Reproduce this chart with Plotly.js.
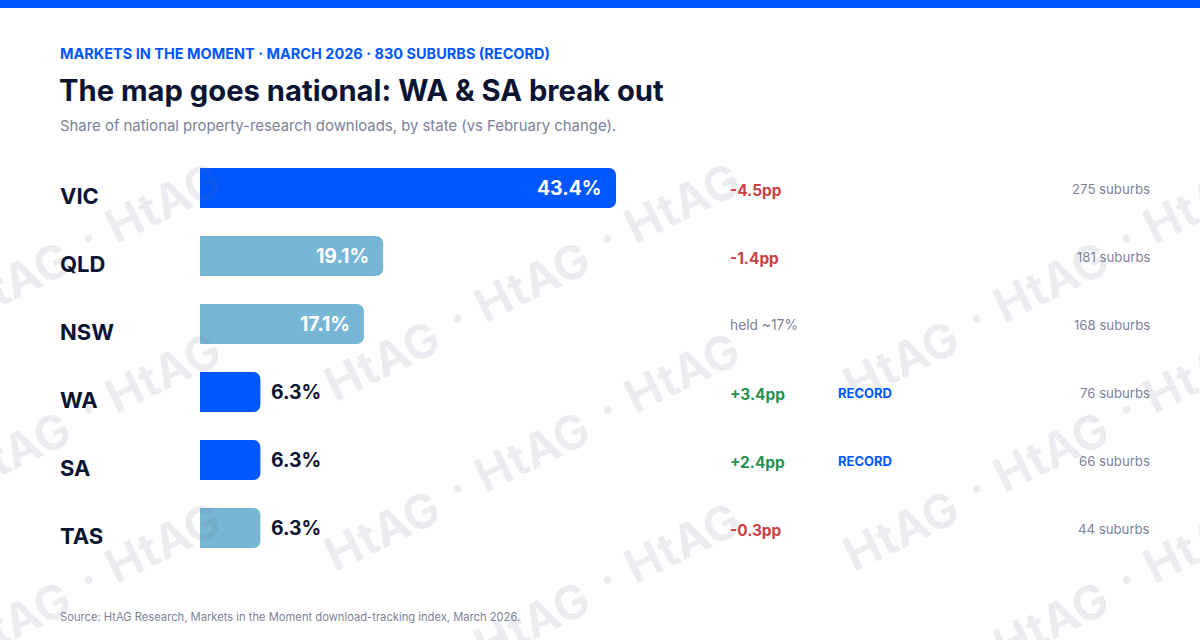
<!DOCTYPE html>
<html>
<head>
<meta charset="utf-8">
<script src="https://cdn.plot.ly/plotly-3.0.1.min.js"></script>
<style>
  html, body { margin: 0; padding: 0; background: #ffffff; }
  #chart { width: 1200px; height: 640px; }
</style>
</head>
<body>
<div id="chart"></div>
<script>
// ---------------- DATA ----------------
const states = ['VIC', 'QLD', 'NSW', 'WA', 'SA', 'TAS'];
const sharePct = [43.4, 19.1, 17.1, 6.3, 6.3, 6.3];
const shareLabels = ['43.4%', '19.1%', '17.1%', '6.3%', '6.3%', '6.3%'];
const changePP = [-4.5, -1.4, null, 3.4, 2.4, -0.3];
const changeLabels = ['-4.5pp', '-1.4pp', 'held ~17%', '+3.4pp', '+2.4pp', '-0.3pp'];
const recordFlags = ['', '', '', 'RECORD', 'RECORD', ''];
const suburbCounts = [275, 181, 168, 76, 66, 44];

const eyebrowText = 'MARKETS IN THE MOMENT · MARCH 2026 · 830 SUBURBS (RECORD)';
const titleText = 'The map goes national: WA &amp; SA break out';
const subtitleText = 'Share of national property-research downloads, by state (vs February change).';
const sourceText = 'Source: HtAG Research, Markets in the Moment download-tracking index, March 2026.';
const watermarkText = 'HtAG';

// ---------------- STYLE ----------------
const FONT = 'Inter, "Noto Sans", "DejaVu Sans", sans-serif';
const BLUE = '#0057FF';
const LIGHT = '#78B6D6';
const INK = '#0B1433';
const GREY = '#7B8296';
const RED = '#C8403F';
const GREEN = '#1F9150';

const W = 1200, H = 640;
const M = { l: 200, r: 50, t: 154, b: 78 };
const PW = W - M.l - M.r, PH = H - M.t - M.b;
const px = x => (x - M.l) / PW;          // pixel -> paper x
const py = y => 1 - (y - M.t) / PH;      // pixel -> paper y

const barColors = states.map((s, i) => (i === 0 || recordFlags[i]) ? BLUE : LIGHT);

const annotations = [];

// watermark (drawn first so that labels sit above it)
const WM = { size: 47, angle: -26, x0: -190, y0: 398, colStep: 519, rowStep: 170, step: [150, -79],
             cx: 52, cy: -38, color: 'rgba(100,110,130,0.12)' };
for (let r = 0; r < 3; r++) {
  for (let c = 0; c < 3; c++) {
    for (let k = 0; k < 3; k++) {
      const bx = WM.x0 + c * WM.colStep + k * WM.step[0];
      const by = WM.y0 + r * WM.rowStep + k * WM.step[1];
      annotations.push({
        xref: 'paper', yref: 'paper', x: px(bx + WM.cx), y: py(by + WM.cy),
        xanchor: 'center', yanchor: 'middle', showarrow: false,
        text: watermarkText, textangle: WM.angle,
        font: { family: FONT, size: WM.size, weight: 700, color: WM.color }
      });
      if (k > 0) {
        annotations.push({
          xref: 'paper', yref: 'paper', x: px(bx - 22), y: py(by - 2),
          xanchor: 'center', yanchor: 'middle', showarrow: false,
          text: '·', textangle: WM.angle,
          font: { family: FONT, size: WM.size, weight: 700, color: WM.color }
        });
      }
    }
  }
}

// header / footer texts
function pixText(text, x, y, size, color, weight) {
  annotations.push({
    xref: 'paper', yref: 'paper', x: px(x - 2), y: py(y),
    xanchor: 'left', yanchor: 'middle', showarrow: false,
    text: text, font: { family: FONT, size: size, color: color, weight: weight || 400 }
  });
}
pixText(eyebrowText, 60, 53, 14.5, BLUE, 700);
pixText(subtitleText, 60, 126, 14.9, GREY, 400);
pixText(sourceText, 60, 617, 11.2, GREY, 400);

// per-row texts
states.forEach((s, i) => {
  // state label
  annotations.push({
    xref: 'paper', yref: 'y', x: px(58), y: s, yshift: -8,
    xanchor: 'left', yanchor: 'middle', showarrow: false,
    text: s, font: { family: FONT, size: 22, weight: 700, color: INK }
  });
  // value label
  const inside = sharePct[i] > 10;
  annotations.push({
    xref: 'x', yref: 'y', x: sharePct[i], y: s,
    xshift: inside ? -12 : 9, yshift: 0,
    xanchor: inside ? 'right' : 'left', yanchor: 'middle', showarrow: false,
    text: shareLabels[i],
    font: { family: FONT, size: 19.4, weight: 700, color: inside ? '#FFFFFF' : INK }
  });
  // change vs February
  const ch = changePP[i];
  annotations.push({
    xref: 'paper', yref: 'y', x: px(728), y: s, yshift: ch === null ? -1 : -2,
    xanchor: 'left', yanchor: 'middle', showarrow: false,
    text: changeLabels[i],
    font: { family: FONT, size: ch === null ? 13.8 : 15.4, weight: ch === null ? 400 : 700,
            color: ch === null ? GREY : (ch < 0 ? RED : GREEN) }
  });
  // record flag
  if (recordFlags[i]) {
    annotations.push({
      xref: 'paper', yref: 'y', x: px(836), y: s, yshift: -1,
      xanchor: 'left', yanchor: 'middle', showarrow: false,
      text: recordFlags[i], font: { family: FONT, size: 13, weight: 700, color: BLUE }
    });
  }
  // suburbs
  annotations.push({
    xref: 'paper', yref: 'y', x: px(1152), y: s, yshift: -1,
    xanchor: 'right', yanchor: 'middle', showarrow: false,
    text: suburbCounts[i] + ' suburbs', font: { family: FONT, size: 13.2, color: GREY }
  });
});

const trace = {
  type: 'bar', orientation: 'h',
  x: sharePct, y: states,
  width: 40 / 68,
  marker: { color: barColors, cornerradius: 7, line: { width: 0 } },
  hoverinfo: 'skip', textposition: 'none'
};

const layout = {
  width: W, height: H,
  margin: M,
  paper_bgcolor: '#FFFFFF', plot_bgcolor: 'rgba(0,0,0,0)',
  showlegend: false,
  font: { family: FONT, color: INK },
  title: {
    text: titleText, xref: 'container', yref: 'container',
    x: 59 / W, xanchor: 'left', y: 1 - 91 / H, yanchor: 'middle',
    font: { family: FONT, size: 29.2, weight: 700, color: INK }
  },
  xaxis: { range: [0, 99.1], visible: false, fixedrange: true },
  yaxis: {
    type: 'category', categoryorder: 'array', categoryarray: states,
    range: [5.5, -0.5], showticklabels: false, showgrid: false, zeroline: false,
    showline: false, ticks: '', fixedrange: true
  },
  shapes: [{
    type: 'rect', xref: 'paper', yref: 'paper',
    x0: px(0), x1: px(W), y0: py(8), y1: py(0),
    fillcolor: BLUE, line: { width: 0 }, layer: 'below'
  }],
  annotations: annotations
};

Plotly.newPlot('chart', [trace], layout, { displayModeBar: false, staticPlot: true });
</script>
</body>
</html>
